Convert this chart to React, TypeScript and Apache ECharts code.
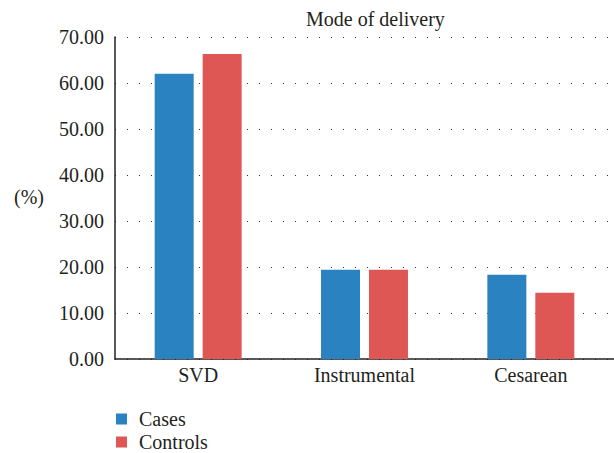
import React, { useEffect, useRef } from "react";
import * as echarts from "echarts";

const categories = ["SVD", "Instrumental", "Cesarean"];
const cases = [62.0, 19.4, 18.3];
const controls = [66.3, 19.4, 14.4];
const seriesNames = ["Cases", "Controls"];
const titleText = "Mode of delivery";
const yUnit = "(%)";

const FONT = "Liberation Serif, serif";
const TEXT = "#231f20";

export default function App() {
  const ref = useRef<HTMLDivElement>(null);
  useEffect(() => {
    if (!ref.current) return;
    const chart = echarts.init(ref.current, undefined, { renderer: "svg" });
    chart.setOption({
      animation: false,
      textStyle: { fontFamily: FONT },
      title: {
        text: titleText,
        left: 301,
        top: 4,
        textStyle: { fontFamily: FONT, fontSize: 20, fontWeight: "normal", color: TEXT },
      },
      legend: {
        orient: "vertical",
        left: 116,
        top: 409,
        padding: 0,
        itemWidth: 11,
        itemHeight: 11,
        itemGap: 3,
        icon: "rect",
        textStyle: { fontFamily: FONT, fontSize: 20, color: TEXT, lineHeight: 20, padding: [0, 0, 0, 7] },
        data: seriesNames,
      },
      grid: { left: 115, top: 37, bottom: 94, width: 510, containLabel: false },
      xAxis: {
        type: "category",
        data: categories,
        axisLine: { lineStyle: { color: "#222", width: 1.5 } },
        axisTick: { show: false },
        axisLabel: { fontFamily: FONT, fontSize: 20, color: TEXT, margin: 6 },
      },
      yAxis: {
        type: "value",
        min: 0,
        max: 70,
        interval: 10,
        axisLine: { show: true, lineStyle: { color: "#222", width: 1.5 } },
        axisTick: { show: false },
        axisLabel: {
          fontFamily: FONT,
          fontSize: 20,
          color: TEXT,
          margin: 11,
          formatter: (v: number) => v.toFixed(2),
        },
        splitLine: { show: true, lineStyle: { color: "#333", width: 1, type: [1, 11] } },
      },
      graphic: [
        {
          type: "text",
          x: 29,
          y: 197,
          style: {
            text: yUnit,
            fontFamily: FONT,
            fontSize: 20,
            fill: TEXT,
            textAlign: "center",
            textVerticalAlign: "middle",
          },
        },
      ],
      series: [
        {
          name: seriesNames[0],
          type: "bar",
          data: cases,
          barWidth: 39,
          barGap: "23%",
          itemStyle: { color: "#2b82c0" },
        },
        {
          name: seriesNames[1],
          type: "bar",
          data: controls,
          barWidth: 39,
          barGap: "23%",
          itemStyle: { color: "#df5755" },
        },
      ],
    });
    return () => chart.dispose();
  }, []);
  return <div ref={ref} style={{ width: 614, height: 453, position: "absolute", left: 0, top: 0 }} />;
}
